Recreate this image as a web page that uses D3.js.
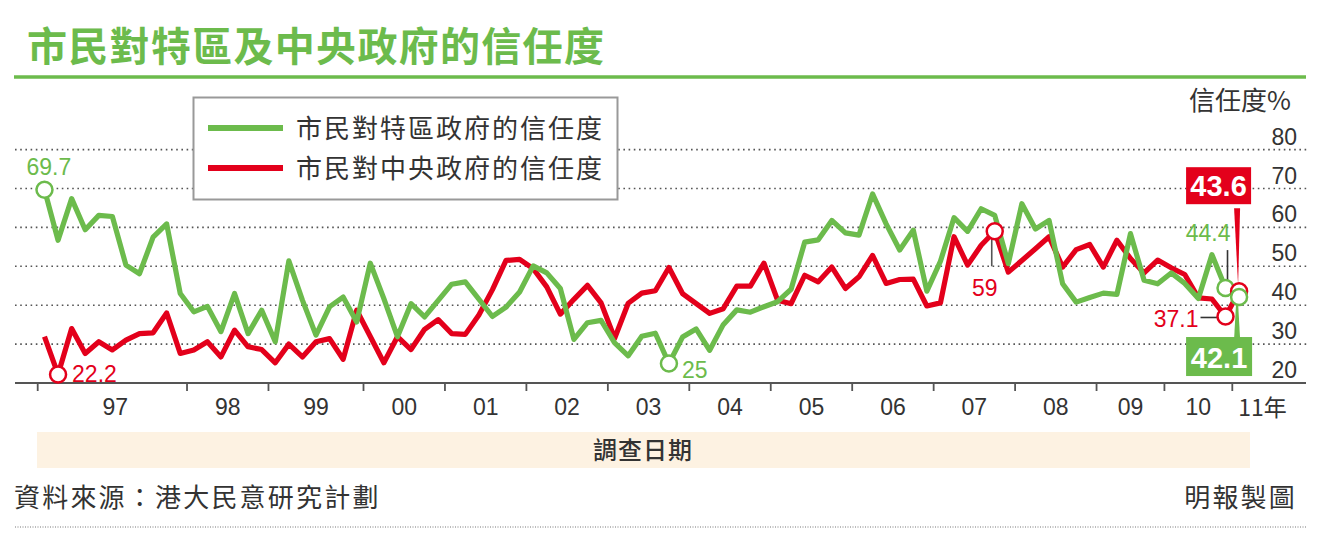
<!DOCTYPE html>
<html><head><meta charset="utf-8">
<script src="https://cdn.jsdelivr.net/npm/d3@7"></script>
<style>
body{margin:0;background:#fff;}
svg{display:block;}
text{font-family:"Liberation Sans",Arial,sans-serif;}
.cjk{font-family:"Noto Sans CJK TC","Noto Sans CJK SC",sans-serif;}
</style></head><body>
<svg id="chart" width="1322" height="540"></svg>
<script>
// ---------- data ----------
const yearLabels = ["97","98","99","00","01","02","03","04","05","06","07","08","09","10","11年"];
const surveysPerYear = [11,6,7,6,6,6,6,6,6,6,6,6,5,5,1];
const sarTrust = [
 69.7,56.7,67.4,59.4,63.1,62.8,50.3,48.1,57.5,60.9,
 43.0,38.3,39.7,33.2,43.0,32.7,38.7,30.6,51.4,41.3,
 32.3,39.6,42.1,35.7,50.8,41.7,31.9,40.4,37.0,null,
 45.4,46.0,null,37.1,39.5,43.4,50.1,48.3,44.3,31.2,
 35.5,36.1,30.3,27.0,32.0,32.8,25.0,31.8,33.9,28.4,
 35.0,38.8,38.2,39.6,40.9,44.1,56.2,56.8,61.8,58.6,
 58.0,68.6,60.9,54.2,59.3,43.6,51.3,62.5,59.0,64.8,
 63.1,50.7,66.1,59.6,61.8,45.5,40.8,42.0,43.1,42.8,
 58.4,46.4,45.5,48.3,45.6,41.7,53.0,44.4,42.1
];
const centralTrust = [
 31.9,22.2,34.0,27.6,30.6,28.5,31.0,32.7,32.9,38.0,
 27.6,28.5,30.6,26.7,33.6,29.3,28.6,25.2,30.0,26.7,
 30.6,31.4,26.1,38.7,null,25.2,31.9,28.6,33.8,36.3,
 32.7,32.5,37.5,44.0,51.5,51.8,49.4,44.7,37.7,41.5,
 45.1,40.6,31.5,40.5,43.1,43.7,49.7,43.0,null,37.9,
 39.1,44.9,44.9,50.8,41.3,40.4,47.7,46.0,49.8,44.3,
 47.3,52.8,45.6,46.6,46.7,39.8,40.6,57.6,50.3,55.4,
 59.0,48.5,51.5,54.5,57.6,49.8,54.3,55.6,49.8,56.7,
 52.0,48.3,51.6,49.6,47.9,41.9,41.6,37.1,43.6
];
const yTicks = [20,30,40,50,60,70,80];
const seriesNames = ["市民對特區政府的信任度","市民對中央政府的信任度"];

// ---------- setup ----------
const GREEN = "#6cbb4c", RED = "#e3001b", TXT = "#333";
const svg = d3.select("#chart");
const slots = d3.range(sarTrust.length);
const x = d3.scaleBand().domain(slots).range([37.7, 37.7 + 13.575 * slots.length]).padding(0);
const cx = i => x(i) + x.bandwidth() / 2;
const y = d3.scaleLinear().domain([20, 80]).range([383, 149.6]);

// title
svg.append("text").attr("class","cjk").attr("x",27).attr("y",61)
  .attr("font-size",40).attr("font-weight",700).attr("letter-spacing",1.3)
  .attr("fill",GREEN).text("市民對特區及中央政府的信任度");
svg.append("line").attr("x1",14).attr("x2",1306).attr("y1",77).attr("y2",77)
  .attr("stroke",GREEN).attr("stroke-width",3.5);

// gridlines (dotted)
svg.append("g").selectAll("line").data(yTicks.filter(d => d > 20)).join("line")
  .attr("x1",15).attr("x2",1308).attr("y1",d=>y(d)).attr("y2",d=>y(d))
  .attr("stroke","#555").attr("stroke-width",1.6).attr("stroke-dasharray","1.6,3.6");

// y tick labels (right side, above gridlines)
svg.append("g").selectAll("text").data(yTicks).join("text")
  .attr("x",1297).attr("y",d=>y(d)-5).attr("text-anchor","end")
  .attr("font-size",23).attr("fill",TXT).text(d=>d);
svg.append("text").attr("class","cjk").attr("x",1291).attr("y",110).attr("text-anchor","end")
  .attr("font-size",26).attr("fill",TXT).text("信任度%");

// x axis
svg.append("line").attr("x1",15).attr("x2",1306).attr("y1",y(20)).attr("y2",y(20))
  .attr("stroke","#555").attr("stroke-width",2.2);
const yearStarts = d3.cumsum([0, ...surveysPerYear.slice(0,-1)]);
svg.append("g").selectAll("line").data(yearStarts).join("line")
  .attr("x1",d=>x(d)).attr("x2",d=>x(d)).attr("y1",y(20)).attr("y2",y(20)+8)
  .attr("stroke","#555").attr("stroke-width",1.8);
svg.append("g").selectAll("text").data(yearLabels).join("text")
  .attr("class",(d,i)=> i===yearLabels.length-1 ? "cjk" : null)
  .attr("x",(d,i)=>{
    const s = yearStarts[i], n = surveysPerYear[i];
    if (i === yearLabels.length-1) return x(s) + 6;
    return (x(s) + x(s+n-1) + x.bandwidth())/2 + (i===0 ? 3 : 0);
  })
  .attr("y",(d,i)=> i===yearLabels.length-1 ? 416 : 415)
  .attr("text-anchor",(d,i)=> i===yearLabels.length-1 ? "start" : "middle")
  .attr("font-size",23)
  .attr("fill",TXT).text(d=>d);

// survey-date band
svg.append("rect").attr("x",37).attr("y",432).attr("width",1213).attr("height",36).attr("fill","#fdf2e2");
svg.append("text").attr("class","cjk").attr("x",643).attr("y",459).attr("text-anchor","middle")
  .attr("font-size",24).attr("font-weight",500).attr("letter-spacing",1).attr("fill",TXT).text("調查日期");

// footer
svg.append("text").attr("class","cjk").attr("x",14).attr("y",507)
  .attr("font-size",26).attr("letter-spacing",2.2).attr("fill",TXT).text("資料來源：港大民意研究計劃");
svg.append("text").attr("class","cjk").attr("x",1297).attr("y",507).attr("text-anchor","end")
  .attr("font-size",26).attr("letter-spacing",2.2).attr("fill",TXT).text("明報製圖");
svg.append("line").attr("x1",15).attr("x2",1306).attr("y1",527).attr("y2",527)
  .attr("stroke","#777").attr("stroke-width",1).attr("stroke-dasharray","1,1.5");

// lines
const line = d3.line().x(d=>cx(d.i)).y(d=>y(d.v)).curve(d3.curveLinear);
const toPts = arr => arr.map((v,i)=>({i,v})).filter(d=>d.v!=null);
svg.append("path").datum(toPts(centralTrust)).attr("d",line)
  .attr("fill","none").attr("stroke",RED).attr("stroke-width",5.2).attr("stroke-linejoin","round");
svg.append("path").datum(toPts(sarTrust)).attr("d",line)
  .attr("fill","none").attr("stroke",GREEN).attr("stroke-width",5.2).attr("stroke-linejoin","round");

// legend
svg.append("rect").attr("x",193.5).attr("y",97.5).attr("width",424).attr("height",102)
  .attr("fill","#fff").attr("stroke","#999").attr("stroke-width",2);
[GREEN, RED].forEach((c,k)=>{
  const ly = 128 + k*40;
  svg.append("line").attr("x1",208).attr("x2",283).attr("y1",ly).attr("y2",ly)
    .attr("stroke",c).attr("stroke-width",6);
  svg.append("text").attr("class","cjk").attr("x",296).attr("y",ly+10)
    .attr("font-size",26).attr("letter-spacing",2).attr("fill",TXT).text(seriesNames[k]);
});

// annotations
const last = slots.length - 1;
const ann = svg.append("g");
function leader(x1,y1,x2,y2,c,w){ ann.append("line").attr("x1",x1).attr("y1",y1).attr("x2",x2).attr("y2",y2).attr("stroke",c).attr("stroke-width",w||1.6); }
function label(tx,ty,t,c,anchor,size,weight){
  ann.append("text").attr("x",tx).attr("y",ty).attr("text-anchor",anchor||"start")
    .attr("font-size",size||23).attr("font-weight",weight||400).attr("fill",c).text(t);
}
// 69.7 (green first)
label(cx(0)-18, y(sarTrust[0])-15, "69.7", GREEN);
// 22.2 (red min)
label(cx(1)+14, y(centralTrust[1])+8, "22.2", RED);
// 25 (green min)
const gMin = 46;
label(cx(gMin)+13, y(sarTrust[gMin])+14, "25", GREEN);
// 59 (red peak)
const rPk = 70;
leader(cx(rPk)-3, y(centralTrust[rPk]), cx(rPk)-3, y(centralTrust[rPk])+35, "#555", 1.6);
label(cx(rPk)-10, y(centralTrust[rPk])+65, "59", RED, "middle");
// 37.1 (red, second last)
leader(cx(last-1)-25, y(centralTrust[last-1])+1, cx(last-1)-8, y(centralTrust[last-1])+1, "#333", 1.6);
label(cx(last-1)-27, y(centralTrust[last-1])+11, "37.1", RED, "end");
// 44.4 (green, second last)
leader(cx(last-1)+2, y(sarTrust[last-1])-6, cx(last-1)+2, y(sarTrust[last-1])-38, "#333", 1.6);
label(cx(last-1)+5, y(sarTrust[last-1])-47, "44.4", GREEN, "end");
// 43.6 box (red last)
const rLy = y(centralTrust[last]);
ann.append("path").attr("d",`M${cx(last)-5},${rLy-83} L${cx(last)+1},${rLy-83} L${cx(last)-1},${rLy-6} Z`).attr("fill",RED);
ann.append("rect").attr("x",cx(last)-53).attr("y",rLy-124).attr("width",65).attr("height",37).attr("fill",RED);
label(cx(last)-20.5, rLy-95, "43.6", "#fff", "middle", 29, 700);
// 42.1 box (green last)
const gLy = y(sarTrust[last]);
ann.append("path").attr("d",`M${cx(last)-3},${gLy+6} L${cx(last)-1},${gLy+6} L${cx(last)+1},${gLy+42} L${cx(last)-5},${gLy+42} Z`).attr("fill",GREEN);
ann.append("rect").attr("x",cx(last)-53).attr("y",gLy+40).attr("width",66).attr("height",39).attr("fill",GREEN);
label(cx(last)-20, gLy+71, "42.1", "#fff", "middle", 29, 700);

// circles
const circ = [
  {i:0, v:sarTrust[0], c:GREEN},
  {i:1, v:centralTrust[1], c:RED},
  {i:gMin, v:sarTrust[gMin], c:GREEN},
  {i:rPk, v:centralTrust[rPk], c:RED},
  {i:last-1, v:centralTrust[last-1], c:RED},
  {i:last-1, v:sarTrust[last-1], c:GREEN},
  {i:last, v:centralTrust[last], c:RED},
  {i:last, v:sarTrust[last], c:GREEN}
];
ann.selectAll("circle").data(circ).join("circle")
  .attr("cx",d=>cx(d.i)).attr("cy",d=>y(d.v)).attr("r",8)
  .attr("fill","#fff").attr("stroke",d=>d.c).attr("stroke-width",2.5);
</script>
</body></html>
